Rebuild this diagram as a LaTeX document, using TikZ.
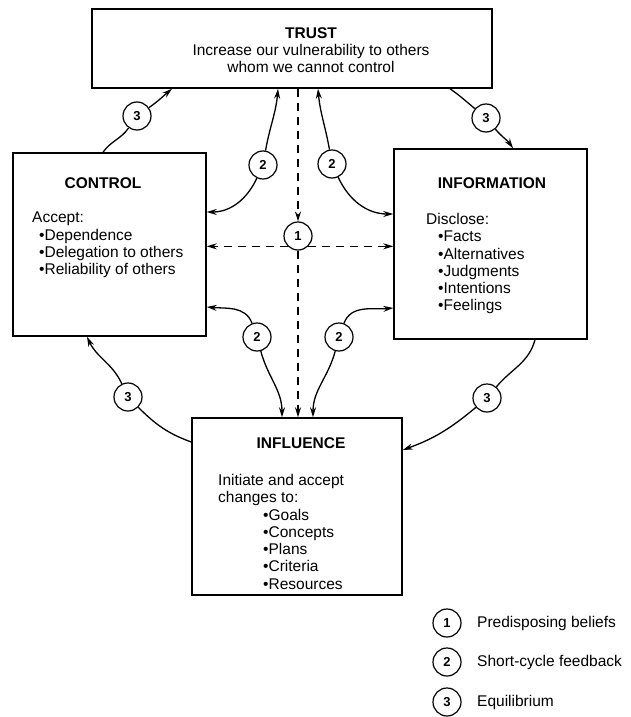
\documentclass[tikz,border=0pt]{standalone}
\usepackage{fontspec}
\setmainfont{Liberation Sans}
\usetikzlibrary{arrows.meta}

\begin{document}
\begin{tikzpicture}[x=1pt, y=1pt, >={Stealth[length=10pt,width=6pt]},
    box/.style = {draw, line width=1.5pt, inner sep=0pt},
    num/.style = {draw, circle, line width=1.2pt, minimum size=28pt, inner sep=0pt, font=\fontsize{13}{13}\selectfont\bfseries},
    head/.style = {inner sep=0pt, anchor=north, font=\fontsize{15.5}{17.3}\selectfont\bfseries},
    txt/.style = {inner sep=0pt, align=left, font=\fontsize{15.5}{17.3}\selectfont},
    link/.style = {line width=1.3pt},
    flow/.style = {line width=1.3pt, dash pattern=on 8pt off 6pt}]
    \useasboundingbox (0,0) rectangle (631,-717);
    \node[box, minimum width=400pt, minimum height=79pt] (trust) at (292,-48.5) {};
    \node[box, minimum width=193pt, minimum height=183pt] (control) at (109.5,-244.5) {};
    \node[box, minimum width=193pt, minimum height=190pt] (info) at (490.5,-244) {};
    \node[box, minimum width=210pt, minimum height=177pt] (influence) at (297,-506.5) {};

    \node[head] (trusttitle) at (311,-27) {TRUST};
    \node[txt, align=center, anchor=north] (trusttext) at (311,-44) {Increase our vulnerability to others\\whom we cannot control};
    \node[head] (controltitle) at (103,-177) {CONTROL};
    \node[txt, anchor=north west] (controltext) at (32,-212) {Accept:\\\hspace*{7pt}\textbullet Dependence\\\hspace*{7pt}\textbullet Delegation to others\\\hspace*{7pt}\textbullet Reliability of others};
    \node[head] (infotitle) at (492,-177) {INFORMATION};
    \node[txt, anchor=north west] (infotext) at (426,-213) {Disclose:\\\hspace*{12pt}\textbullet Facts\\\hspace*{12pt}\textbullet Alternatives\\\hspace*{12pt}\textbullet Judgments\\\hspace*{12pt}\textbullet Intentions\\\hspace*{12pt}\textbullet Feelings};
    \node[head] (influencetitle) at (301,-437) {INFLUENCE};
    \node[txt, anchor=north west] (influencetext) at (218,-474) {Initiate and accept\\changes to:\\\hspace*{45pt}\textbullet Goals\\\hspace*{45pt}\textbullet Concepts\\\hspace*{45pt}\textbullet Plans\\\hspace*{45pt}\textbullet Criteria\\\hspace*{45pt}\textbullet Resources};

    \node[num] (p1) at (298,-236) {1};
    \node[num] (s1) at (263,-165) {2};
    \node[num] (s2) at (332,-164) {2};
    \node[num] (s3) at (257,-337) {2};
    \node[num] (s4) at (339,-337) {2};
    \node[num] (e1) at (137,-116) {3};
    \node[num] (e2) at (486,-118) {3};
    \node[num] (e3) at (487,-398) {3};
    \node[num] (e4) at (128,-397) {3};

    \draw[flow, ->] ([xshift=6pt]trust.south) -- (p1);
    \draw[flow, ->] (p1) -- (p1 |- influence.north);
    \draw[flow, ->] (p1.-135) -- (p1.-135 -| control.east);
    \draw[flow, ->] (p1.-45) -- (p1.-45 -| info.west);

    \draw[link, ->] (s1) to[out=80, in=-95] ([xshift=-14pt]trust.south);
    \draw[link, ->] (s1) to[out=-115, in=0] ([yshift=32.5pt]control.east);
    \draw[link, ->] (s2) to[out=100, in=-85] ([xshift=26pt]trust.south);
    \draw[link, ->] (s2) to[out=-65, in=180] ([yshift=30pt]info.west);
    \draw[link, ->] (s3) to[out=110, in=-5] ([yshift=-62.5pt]control.east);
    \draw[link, ->] (s3) to[out=-75, in=90] ([xshift=-15pt]influence.north);
    \draw[link, ->] (s4) to[out=70, in=185] ([yshift=-64pt]info.west);
    \draw[link, ->] (s4) to[out=-105, in=90] ([xshift=16pt]influence.north);

    \draw[link] ([xshift=-6.5pt]control.north) to[out=55, in=-125] (e1);
    \draw[link, ->] (e1) to[out=35, in=-140] ([xshift=-120pt]trust.south);
    \draw[link] ([xshift=158pt]trust.south) to[out=-35, in=140] (e2);
    \draw[link, ->] (e2) to[out=-50, in=125] ([xshift=22.5pt]info.north);
    \draw[link] ([xshift=44.5pt]info.south) to[out=-105, in=50] (e3);
    \draw[link, ->] (e3) to[out=-140, in=20] ([yshift=56.5pt]influence.east);
    \draw[link] ([yshift=64.5pt]influence.west) to[out=160, in=-45] (e4);
    \draw[link, ->] (e4) to[out=115, in=-65] ([xshift=-22.5pt]control.south);

    \node[num] (k1) at (447,-623) {1};
    \node[txt, anchor=west] (k1text) at (477,-623) {Predisposing beliefs};
    \node[num] (k2) at (447,-662) {2};
    \node[txt, anchor=west] (k2text) at (477,-662) {Short-cycle feedback};
    \node[num] (k3) at (447,-702) {3};
    \node[txt, anchor=west] (k3text) at (477,-702) {Equilibrium};
\end{tikzpicture}
\end{document}
